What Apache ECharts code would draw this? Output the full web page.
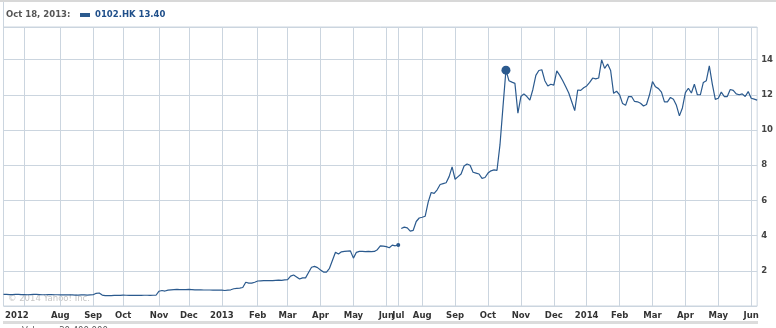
<!DOCTYPE html>
<html>
<head>
<meta charset="utf-8">
<script src="https://cdn.jsdelivr.net/npm/echarts@6/dist/echarts.min.js"></script>
<style>
html,body{margin:0;padding:0;background:#fff;}
#chart{width:776px;height:328px;}
</style>
</head>
<body>
<div id="chart"></div>
<script>
// ---- data ----
const ticker = '0102.HK';
const highlightDate = 'Oct 18, 2013';
const highlightValue = 13.40;

const monthKeys = ['2012-06','2012-07','2012-08','2012-09','2012-10','2012-11','2012-12',
  '2013-01','2013-02','2013-03','2013-04','2013-05','2013-06','2013-07','2013-08','2013-09',
  '2013-10','2013-11','2013-12','2014-01','2014-02','2014-03','2014-04','2014-05','2014-06'];
const monthTickLabels = ['','2012','Aug','Sep','Oct','Nov','Dec','2013','Feb','Mar','Apr','May',
  'Jun','Jul','Aug','Sep','Oct','Nov','Dec','2014','Feb','Mar','Apr','May','Jun'];
const samplesPerMonth = [7,12,11,10,12,10,11,12,10,11,11,11,4,8,11,11,11,11,11,11,11,11,11,11,3];

const yTicks = [2,4,6,8,10,12,14];

const pricesBefore = [
  0.66,0.66,0.65,0.65,0.66,0.66,0.65,
  0.65,0.64,0.65,0.66,0.66,0.65,0.64,0.64,0.65,0.65,0.64,0.64,
  0.63,0.63,0.64,0.63,0.63,0.62,0.62,0.63,0.63,0.62,0.63,
  0.64,0.72,0.74,0.62,0.59,0.59,0.59,0.60,0.60,0.60,
  0.62,0.61,0.60,0.60,0.60,0.60,0.60,0.61,0.61,0.60,0.61,0.61,
  0.84,0.88,0.85,0.90,0.92,0.93,0.94,0.93,0.93,0.93,
  0.94,0.93,0.92,0.92,0.92,0.91,0.91,0.91,0.90,0.90,0.90,
  0.90,0.88,0.90,0.92,0.98,1.00,1.02,1.05,1.35,1.30,1.30,1.35,
  1.42,1.43,1.44,1.45,1.44,1.44,1.46,1.47,1.46,1.48,
  1.50,1.70,1.76,1.65,1.53,1.60,1.60,1.90,2.20,2.25,2.18,
  2.05,1.93,1.92,2.14,2.60,3.05,2.95,3.08,3.10,3.12,3.13,
  2.72,3.05,3.10,3.10,3.09,3.10,3.09,3.10,3.20,3.42,3.40,
  3.37,3.31,3.46,3.42,
  3.47
];
const pricesAfter = [
  4.40,4.48,4.44,4.25,4.30,4.80,5.00,
  5.04,5.10,5.90,6.45,6.40,6.60,6.90,6.95,7.00,7.35,7.90,
  7.20,7.35,7.50,7.95,8.07,8.00,7.60,7.55,7.50,7.25,7.30,
  7.55,7.68,7.73,7.70,9.15,11.30,13.40,12.80,12.72,12.65,10.95,
  11.90,12.05,11.90,11.70,12.30,13.10,13.38,13.42,12.80,12.50,12.60,
  12.55,13.36,13.10,12.80,12.45,12.10,11.60,11.10,12.27,12.25,12.40,
  12.50,12.70,12.95,12.90,12.95,13.98,13.50,13.75,13.38,12.08,12.20,
  12.00,11.50,11.40,11.90,11.90,11.62,11.60,11.52,11.36,11.45,12.00,
  12.75,12.45,12.35,12.15,11.60,11.60,11.85,11.75,11.40,10.80,11.25,
  12.12,12.37,12.10,12.60,12.00,12.00,12.70,12.80,13.64,12.60,11.74,
  11.80,12.15,11.90,11.90,12.30,12.25,12.05,12.00,12.05,11.90,12.18,
  11.80,11.75,11.70
];

// ---- build categories ----
const categories = [];
const labelOf = {};
monthKeys.forEach((k, m) => {
  for (let n = 1; n <= samplesPerMonth[m]; n++) categories.push(k + '/' + n);
  labelOf[k] = monthTickLabels[m];
});
const isMonthStart = (idx, val) => {
  const v = categories[idx];
  return v.endsWith('/1') && !!labelOf[v.split('/')[0]];
};

const lineColor = '#2b5a8e';
const gridColor = '#cbd5df';
const font = 'DejaVu Sans, Verdana, sans-serif';

const seg1 = pricesBefore.map((v, i) => i === pricesBefore.length - 1
  ? {value: v, symbol: 'circle', symbolSize: 4} : v);
const hiIdx = pricesAfter.indexOf(highlightValue);
const seg2 = new Array(pricesBefore.length).fill(null).concat(
  pricesAfter.map((v, i) => i === hiIdx ? {value: v, symbol: 'circle', symbolSize: 9} : v));

const chart = echarts.init(document.getElementById('chart'), null, {renderer: 'canvas'});
chart.setOption({
  animation: false,
  backgroundColor: '#fff',
  grid: {left: 3.5, right: 17, top: 27, bottom: 22, show: true, borderColor: gridColor, borderWidth: 1},
  xAxis: {
    type: 'category', data: categories, boundaryGap: false,
    axisLine: {show: false}, axisTick: {show: false},
    splitLine: {show: true, interval: isMonthStart, lineStyle: {color: gridColor, width: 1}},
    axisLabel: {
      interval: isMonthStart, margin: 5,
      fontFamily: font, fontSize: 8.5, fontWeight: 'bold', color: '#333',
      formatter: v => {
        const t = labelOf[v.split('/')[0]];
        return v.startsWith('2012-07') ? '{f|' + t + '}' : t;
      },
      rich: {f: {fontFamily: font, fontSize: 8.5, fontWeight: 'bold', color: '#333', padding: [0, 15, 0, 0]}}
    }
  },
  yAxis: {
    type: 'value', position: 'right', min: 0, max: 15.85, interval: 2,
    axisLine: {show: false}, axisTick: {show: false},
    splitLine: {show: true, lineStyle: {color: gridColor, width: 1}},
    axisLabel: {
      margin: 4, showMinLabel: false, showMaxLabel: false,
      fontFamily: font, fontSize: 8.5, fontWeight: 'bold', color: '#444',
      formatter: v => yTicks.includes(v) ? String(v) : ''
    }
  },
  series: [
    {type: 'line', data: seg1, symbol: 'none', showAllSymbol: true, silent: true,
     lineStyle: {color: lineColor, width: 1.2}, itemStyle: {color: lineColor}},
    {type: 'line', data: seg2, symbol: 'none', showAllSymbol: true, silent: true, connectNulls: false,
     lineStyle: {color: lineColor, width: 1.2}, itemStyle: {color: lineColor}}
  ],
  graphic: [
    {type: 'rect', shape: {x: 0, y: 0, width: 776, height: 2}, style: {fill: '#d8d8d8'}, silent: true},
    {type: 'line', shape: {x1: 3.5, y1: 2, x2: 3.5, y2: 27}, style: {stroke: gridColor, lineWidth: 1}, silent: true},
    {type: 'text', left: 6, top: 10, style: {text: highlightDate + ':', font: 'bold 8.5px ' + font, fill: '#555'}},
    {type: 'rect', shape: {x: 80, y: 13, width: 10, height: 4}, style: {fill: lineColor}},
    {type: 'text', left: 95, top: 10, style: {text: ticker + ' ' + highlightValue.toFixed(2), font: 'bold 8.5px ' + font, fill: '#1f4f8a'}},
    {type: 'text', left: 8, top: 294, style: {text: '\u00a9 2014 Yahoo! Inc.', font: '8.5px ' + font, fill: '#c6c6c6'}},
    {type: 'rect', shape: {x: 3, y: 321, width: 755, height: 3}, style: {fill: '#dcdcdc'}, silent: true},
    {type: 'text', left: 22, top: 326, style: {text: 'Volume: 20,400,000', font: '8.5px ' + font, fill: '#555'}}
  ]
});
</script>
</body>
</html>
